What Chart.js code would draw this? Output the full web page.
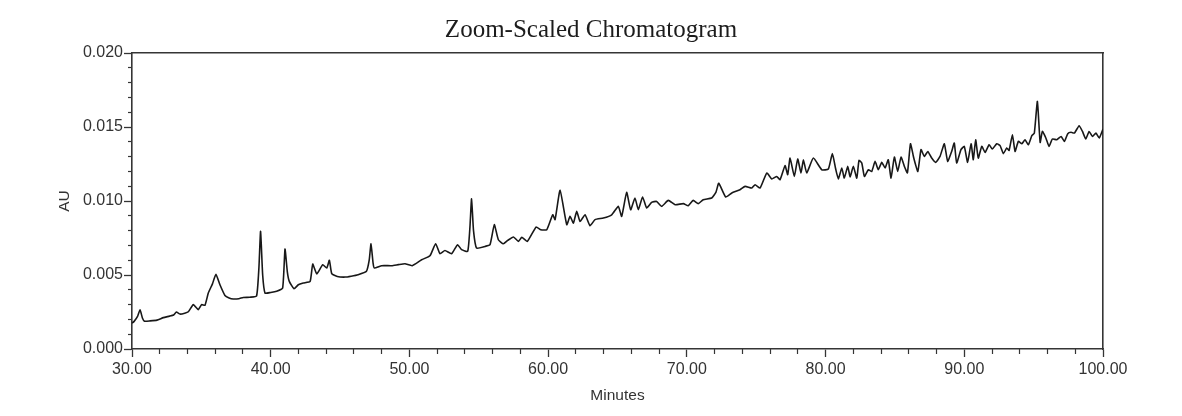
<!DOCTYPE html>
<html>
<head>
<meta charset="utf-8">
<title>Zoom-Scaled Chromatogram</title>
<script src="https://cdn.jsdelivr.net/npm/chart.js@4.4.1/dist/chart.umd.min.js"></script>
<style>
    html, body { margin: 0; padding: 0; background: #fff; }
    #wrap { width: 1182px; height: 416px; position: relative; }
</style>
</head>
<body>
<div id="wrap"><canvas id="chromatogram"></canvas></div>
<script>
// retention time (min) and absorbance (AU)
const minutes = [
    30.00, 30.14, 30.40, 30.58, 30.75, 30.90, 31.30, 31.80, 32.26, 32.70,
    33.00, 33.20, 33.46, 33.80, 34.06, 34.42, 34.78, 35.02, 35.26, 35.50,
    35.80, 36.05, 36.34, 36.70, 37.00, 37.30, 37.70, 38.02, 38.50, 38.98,
    39.15, 39.27, 39.42, 39.59, 40.00, 40.43, 40.86, 41.03, 41.20, 41.34,
    41.68, 41.99, 42.35, 42.84, 43.03, 43.32, 43.75, 44.04, 44.23, 44.40,
    44.80, 45.36, 45.80, 46.30, 46.90, 47.10, 47.23, 47.38, 47.47, 48.00,
    48.72, 49.20, 49.68, 50.20, 50.88, 51.48, 51.89, 52.20, 52.56, 53.04,
    53.47, 53.76, 54.20, 54.36, 54.48, 54.62, 54.84, 55.45, 55.81, 56.12,
    56.41, 56.77, 57.09, 57.50, 57.86, 58.10, 58.50, 59.13, 59.47, 59.90,
    60.33, 60.50, 60.86, 61.34, 61.58, 61.82, 62.06, 62.30, 62.66, 63.02,
    63.38, 63.98, 64.58, 65.06, 65.30, 65.66, 65.95, 66.26, 66.50, 66.81,
    67.10, 67.46, 67.82, 68.18, 68.66, 69.15, 69.75, 70.10, 70.46, 70.82,
    71.18, 71.79, 72.10, 72.30, 72.80, 73.24, 73.83, 74.20, 74.68, 74.92,
    75.28, 75.76, 76.12, 76.48, 76.72, 77.08, 77.27, 77.44, 77.75, 77.99,
    78.23, 78.40, 78.64, 79.12, 79.73, 80.20, 80.49, 80.73, 80.92, 81.17,
    81.35, 81.60, 81.77, 82.00, 82.25, 82.41, 82.61, 82.80, 83.09, 83.33,
    83.57, 83.80, 84.05, 84.29, 84.52, 84.72, 84.96, 85.20, 85.44, 85.68,
    85.90, 86.12, 86.36, 86.65, 86.88, 87.12, 87.37, 87.65, 87.94, 88.25,
    88.56, 88.80, 89.09, 89.28, 89.45, 89.76, 90.00, 90.24, 90.49, 90.65,
    90.82, 91.01, 91.26, 91.50, 91.79, 92.02, 92.34, 92.58, 92.82, 93.06,
    93.23, 93.47, 93.66, 93.90, 94.15, 94.38, 94.62, 94.87, 95.05, 95.27,
    95.47, 95.63, 95.88, 96.11, 96.35, 96.67, 96.98, 97.22, 97.46, 97.70,
    97.94, 98.28, 98.52, 98.76, 99.00, 99.24, 99.49, 99.73, 100.00
];
const absorbance = [
    0.00175, 0.00185, 0.00220, 0.00265, 0.00210, 0.00188, 0.00190, 0.00195, 0.00212, 0.00222,
    0.00230, 0.00250, 0.00236, 0.00242, 0.00252, 0.00300, 0.00266, 0.00300, 0.00295, 0.00378,
    0.00440, 0.00505, 0.00434, 0.00362, 0.00345, 0.00338, 0.00340, 0.00348, 0.00350, 0.00358,
    0.00550, 0.00795, 0.00500, 0.00378, 0.00382, 0.00390, 0.00412, 0.00675, 0.00520, 0.00457,
    0.00407, 0.00434, 0.00446, 0.00457, 0.00574, 0.00507, 0.00570, 0.00547, 0.00600, 0.00509,
    0.00490, 0.00486, 0.00492, 0.00502, 0.00525, 0.00600, 0.00710, 0.00580, 0.00547, 0.00563,
    0.00563, 0.00570, 0.00576, 0.00563, 0.00603, 0.00630, 0.00711, 0.00644, 0.00666, 0.00644,
    0.00705, 0.00671, 0.00660, 0.00820, 0.01014, 0.00800, 0.00682, 0.00693, 0.00705, 0.00840,
    0.00738, 0.00711, 0.00734, 0.00757, 0.00727, 0.00755, 0.00727, 0.00824, 0.00806, 0.00806,
    0.00907, 0.00874, 0.01072, 0.00840, 0.00896, 0.00851, 0.00930, 0.00862, 0.00907, 0.00833,
    0.00874, 0.00885, 0.00907, 0.00964, 0.00896, 0.01058, 0.00941, 0.01020, 0.00941, 0.01027,
    0.00953, 0.00991, 0.00997, 0.00964, 0.01004, 0.00975, 0.00982, 0.00968, 0.01004, 0.00982,
    0.01009, 0.01020, 0.01060, 0.01120, 0.01027, 0.01054, 0.01076, 0.01099, 0.01088, 0.01110,
    0.01088, 0.01189, 0.01149, 0.01166, 0.01144, 0.01239, 0.01178, 0.01290, 0.01166, 0.01284,
    0.01189, 0.01279, 0.01189, 0.01290, 0.01211, 0.01216, 0.01320, 0.01216, 0.01149, 0.01223,
    0.01155, 0.01234, 0.01162, 0.01234, 0.01155, 0.01274, 0.01257, 0.01166, 0.01211, 0.01200,
    0.01268, 0.01211, 0.01261, 0.01223, 0.01279, 0.01155, 0.01297, 0.01200, 0.01297, 0.01234,
    0.01190, 0.01387, 0.01290, 0.01200, 0.01347, 0.01301, 0.01335, 0.01290, 0.01261, 0.01301,
    0.01387, 0.01268, 0.01335, 0.01392, 0.01257, 0.01347, 0.01369, 0.01261, 0.01387, 0.01279,
    0.01414, 0.01290, 0.01369, 0.01328, 0.01380, 0.01351, 0.01387, 0.01374, 0.01320, 0.01358,
    0.01342, 0.01448, 0.01335, 0.01403, 0.01387, 0.01414, 0.01380, 0.01441, 0.01459, 0.01673,
    0.01396, 0.01470, 0.01426, 0.01369, 0.01419, 0.01414, 0.01436, 0.01403, 0.01455, 0.01464,
    0.01459, 0.01509, 0.01470, 0.01419, 0.01470, 0.01436, 0.01459, 0.01426, 0.01486
];

const xMajorTicks = [30, 40, 50, 60, 70, 80, 90, 100];
const xMinorTicks = [32, 34, 36, 38, 42, 44, 46, 48, 52, 54, 56, 58, 62, 64, 66, 68,
                     72, 74, 76, 78, 82, 84, 86, 88, 92, 94, 96, 98];
const yMajorTicks = [0, 0.005, 0.010, 0.015, 0.020];
const yMinorTicks = [0.001, 0.002, 0.003, 0.004, 0.006, 0.007, 0.008, 0.009,
                     0.011, 0.012, 0.013, 0.014, 0.016, 0.017, 0.018, 0.019];

const AXIS = '#353535';
const SANS = "'Liberation Sans', Arial, sans-serif";

function setTicks(list) {
    return scale => { scale.ticks = list.map(v => ({ value: v })); };
}

const points = minutes.map((m, i) => ({ x: m, y: absorbance[i] }));

new Chart(document.getElementById('chromatogram'), {
    type: 'line',
    data: {
        datasets: [{
            data: points,
            borderColor: '#181818',
            borderWidth: 1.6,
            pointRadius: 0,
            tension: 0.15,
            fill: false
        }]
    },
    options: {
        responsive: true,
        maintainAspectRatio: false,
        animation: false,
        events: [],
        layout: { padding: 0 },
        plugins: {
            legend: { display: false },
            tooltip: { enabled: false },
            title: {
                display: true,
                text: 'Zoom-Scaled Chromatogram',
                color: '#1c1c1c',
                font: { family: "'Liberation Serif', 'Times New Roman', serif", size: 25, weight: 'normal' },
                padding: { top: 15, bottom: 8 }
            }
        },
        scales: {
            x: {
                type: 'linear', position: 'bottom', weight: 1, min: 30, max: 100,
                afterBuildTicks: setTicks(xMajorTicks),
                afterFit: s => { s.height = 67; },
                grid: { drawOnChartArea: false, tickLength: 8, tickColor: AXIS, tickWidth: 1.3 },
                border: { color: AXIS, width: 1.6 },
                ticks: {
                    color: '#333', padding: 3, maxRotation: 0, autoSkip: false,
                    font: { family: SANS, size: 16 },
                    callback: v => v.toFixed(2)
                },
                title: {
                    display: true, text: 'Minutes', color: '#333',
                    font: { family: SANS, size: 15.5 },
                    padding: { top: 0, bottom: 11 }
                }
            },
            xMinor: {
                type: 'linear', position: 'bottom', weight: 0, min: 30, max: 100,
                afterBuildTicks: setTicks(xMinorTicks),
                afterFit: s => { s.height = 0; },
                grid: { drawOnChartArea: false, tickLength: 5, tickColor: AXIS, tickWidth: 1.2 },
                border: { display: false },
                ticks: { display: false }
            },
            xTop: {
                type: 'linear', position: 'top', min: 30, max: 100,
                afterFit: s => { s.height = 0; },
                grid: { drawOnChartArea: false, drawTicks: false },
                border: { color: AXIS, width: 1.6 },
                ticks: { display: false }
            },
            y: {
                type: 'linear', position: 'left', weight: 1, min: 0, max: 0.02,
                afterBuildTicks: setTicks(yMajorTicks),
                afterFit: s => { s.width = 132; },
                grid: { drawOnChartArea: false, tickLength: 8, tickColor: AXIS, tickWidth: 1.3 },
                border: { color: AXIS, width: 1.6 },
                ticks: {
                    color: '#333', padding: 1, autoSkip: false,
                    font: { family: SANS, size: 16 },
                    callback: v => v.toFixed(3)
                },
                title: {
                    display: true, text: 'AU', color: '#333',
                    font: { family: SANS, size: 15.5 },
                    padding: { top: 55, bottom: 0 }
                }
            },
            yMinor: {
                type: 'linear', position: 'left', weight: 0, min: 0, max: 0.02,
                afterBuildTicks: setTicks(yMinorTicks),
                afterFit: s => { s.width = 0; },
                grid: { drawOnChartArea: false, tickLength: 4, tickColor: AXIS, tickWidth: 1.2 },
                border: { display: false },
                ticks: { display: false }
            },
            yRight: {
                // frame on the right; its empty box keeps the space right of the plot
                type: 'linear', position: 'right', min: 0, max: 0.02,
                afterFit: s => { s.width = 79; },
                grid: { drawOnChartArea: false, drawTicks: false },
                border: { color: AXIS, width: 1.6 },
                ticks: { display: false }
            }
        }
    }
});
</script>
</body>
</html>
